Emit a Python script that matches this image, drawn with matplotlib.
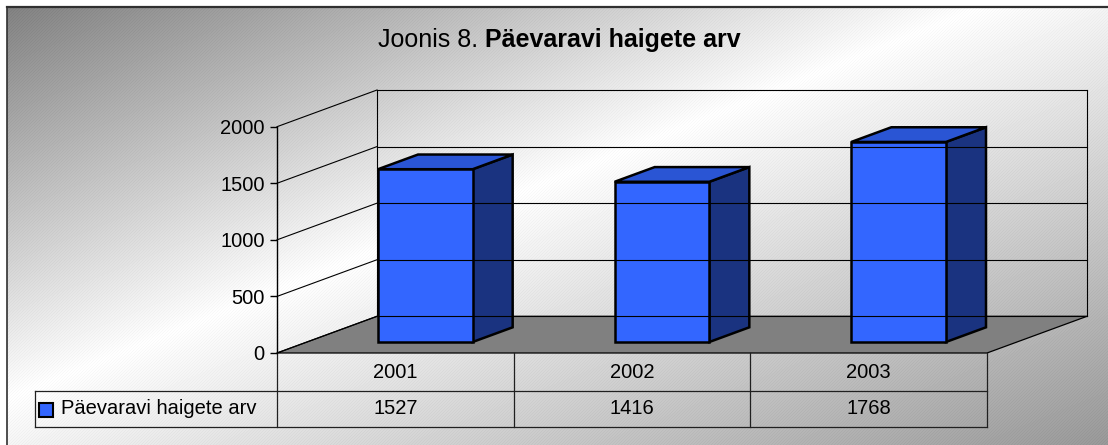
import matplotlib
matplotlib.use("Agg")
import matplotlib.pyplot as plt
import numpy as np
from matplotlib.patches import Polygon, Rectangle
from matplotlib import transforms

# --- data ---
years = ['2001', '2002', '2003']
patients = [1527, 1416, 1768]
series_name = 'Päevaravi haigete arv'
y_ticks = [0, 500, 1000, 1500, 2000]
title_plain = 'Joonis 8.'
title_bold = 'Päevaravi haigete arv'

plt.rcParams['font.family'] = ['Liberation Sans', 'DejaVu Sans']

W, H = 1108, 445
fig = plt.figure(figsize=(W / 100, H / 100), dpi=100)

# --- background: diagonal grey-white-grey gradient, like the Excel fill ---
bg = fig.add_axes([0, 0, 1, 1])
bg.set_axis_off()
PAD = 10
yy, xx = np.mgrid[0:H + PAD, 0:W + PAD]
t = (xx / W + yy / H) / 2
shade = np.where(t < 0.45, 0.50 + 0.50 * t / 0.45, 1.0 - 0.40 * (t - 0.45) / 0.55)
shade = shade - 0.025 * ((xx + yy) % 3 == 0)   # faint diagonal texture
shade[(xx < 7) | (yy < 7)] = 1.0
bg.imshow(shade, cmap='gray', vmin=0, vmax=1, extent=[0, W + PAD, H + PAD, 0],
          aspect='auto', interpolation='nearest')
bg.set_xlim(0, W)
bg.set_ylim(H, 0)
bg.plot([7, W + 5], [7, 7], color='#303030', lw=1.6)
bg.plot([7, 7], [7, H + 5], color='#303030', lw=1.2)

# --- main (front plane) axes ---
ax = fig.add_axes([277 / W, (H - 353) / H, 710 / W, (353 - 126.7) / H])
ax.set_xlim(0, len(years))
ax.set_ylim(0, 2000)
ax.patch.set_alpha(0)
for s in ['top', 'right', 'bottom']:
    ax.spines[s].set_visible(False)
ax.spines['left'].set_linewidth(1.0)
ax.set_xticks([])
ax.set_yticks(y_ticks)
ax.tick_params(axis='y', direction='out', length=5, width=1, labelsize=14.5, pad=4)

# oblique depth vector (in data units)
DX = 100 / (710 / 3)
DY = 36.7 / ((353 - 126.7) / 2000)


def proj(x, y, d):
    return (x + d * DX, y + d * DY)


n = len(years)
# back wall grid + frame, left wall grid
for v in y_ticks:
    p0, p1 = proj(0, v, 1), proj(n, v, 1)
    ax.plot([p0[0], p1[0]], [p0[1], p1[1]], color='black', lw=0.8, clip_on=False)
    q0, q1 = proj(0, v, 0), proj(0, v, 1)
    ax.plot([q0[0], q1[0]], [q0[1], q1[1]], color='black', lw=0.8, clip_on=False)
for xe in [0, n]:
    p0, p1 = proj(xe, 0, 1), proj(xe, 2000, 1)
    ax.plot([p0[0], p1[0]], [p0[1], p1[1]], color='black', lw=0.8, clip_on=False)

# floor
floor = Polygon([proj(0, 0, 0), proj(n, 0, 0), proj(n, 0, 1), proj(0, 0, 1)],
                closed=True, fc='#808080', ec='black', lw=0.9, clip_on=False)
ax.add_patch(floor)

# bars
bw, d0, d1 = 0.4, 0.3, 0.7
for i, v in enumerate(patients):
    x0, x1 = i + 0.5 - bw / 2, i + 0.5 + bw / 2
    side = [proj(x1, 0, d0), proj(x1, 0, d1), proj(x1, v, d1), proj(x1, v, d0)]
    top = [proj(x0, v, d0), proj(x1, v, d0), proj(x1, v, d1), proj(x0, v, d1)]
    front = [proj(x0, 0, d0), proj(x1, 0, d0), proj(x1, v, d0), proj(x0, v, d0)]
    for pts, col in [(side, '#1a3380'), (top, '#2a55d4'), (front, '#3366ff')]:
        ax.add_patch(Polygon(pts, closed=True, fc=col, ec='black', lw=1.8,
                             joinstyle='miter', clip_on=False))

# --- data table below the plot ---
tt = transforms.blended_transform_factory(ax.transData, bg.transData)
x_left = (35 - 277) / (710 / 3)
row_top, row_mid, row_bot = 353, 391, 427
lc = '#202020'
ax.plot([x_left, n], [row_mid, row_mid], color=lc, lw=0.9, transform=tt, clip_on=False)
ax.plot([x_left, n], [row_bot, row_bot], color=lc, lw=0.9, transform=tt, clip_on=False)
ax.plot([x_left, x_left], [row_mid, row_bot], color=lc, lw=0.9, transform=tt, clip_on=False)
for xe in range(n + 1):
    ax.plot([xe, xe], [row_top, row_bot], color=lc, lw=0.9, transform=tt, clip_on=False)
for i, (yr, v) in enumerate(zip(years, patients)):
    ax.text(i + 0.5, (row_top + row_mid) / 2, yr, transform=tt, ha='center',
            va='center', fontsize=14.5)
    ax.text(i + 0.5, (row_mid + row_bot) / 2, str(v), transform=tt, ha='center',
            va='center', fontsize=14.5)

# legend key inside the table
bg.add_patch(Rectangle((39, 403), 14, 14, fc='#3366ff', ec='black', lw=1.5))
bg.text(61, (row_mid + row_bot) / 2, series_name, ha='left', va='center', fontsize=14.5)

# --- title: plain + bold, centred together ---
renderer = fig.canvas.get_renderer()
fs = 18
t1 = bg.text(0, 47, title_plain, fontsize=fs, va='baseline', ha='left')
t2 = bg.text(0, 47, title_bold, fontsize=fs, va='baseline', ha='left', fontweight='bold')
w_sp = 0.278 * fs * 100 / 72
w1 = t1.get_window_extent(renderer).width
w2 = t2.get_window_extent(renderer).width
start = 559 - (w1 + w_sp + w2) / 2
t1.set_x(start)
t2.set_x(start + w1 + w_sp)

fig.savefig('out.png', dpi=100)
